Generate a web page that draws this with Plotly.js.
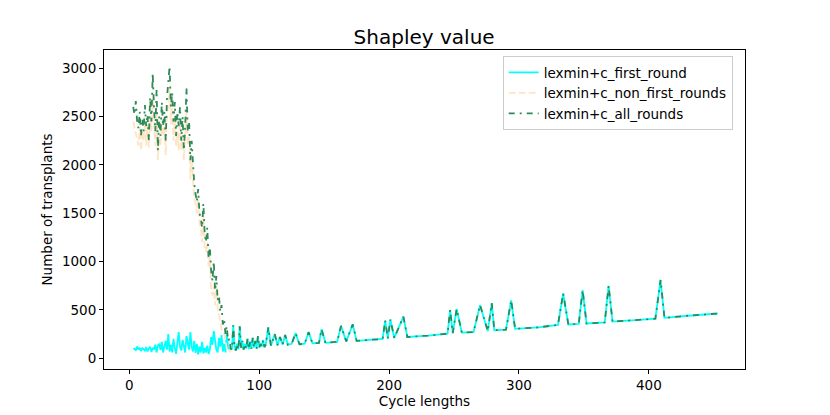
<!DOCTYPE html>
<html>
<head>
<meta charset="utf-8">
<script src="https://cdn.plot.ly/plotly-3.0.1.min.js"></script>
<style>
  body { margin: 0; background: #fff; }
  #chart { width: 830px; height: 415px; }
</style>
</head>
<body>
<div id="chart"></div>
<script>
// cycle lengths, dense part (every length 3..78) then sparse part
let denseX = [
  3, 4, 5, 6, 7, 8, 9, 10, 11, 12, 13, 14, 15, 16, 17, 18, 19, 20, 21, 22,
  23, 24, 25, 26, 27, 28, 29, 30, 31, 32, 33, 34, 35, 36, 37, 38, 39, 40, 41, 42,
  43, 44, 45, 46, 47, 48, 49, 50, 51, 52, 53, 54, 55, 56, 57, 58, 59, 60, 61, 62,
  63, 64, 65, 66, 67, 68, 69, 70, 71, 72, 73, 74, 75, 76, 77, 78,
];
let tailX = [
  79, 80, 81, 82, 83, 84, 85, 86, 87, 88, 89, 90, 91, 92, 93, 94, 95, 96, 97, 98,
  99, 100, 101, 102, 103, 104, 105, 107, 109, 112, 114, 116, 118, 120, 122, 125,
  128, 131, 135, 138, 141, 146, 148, 151, 160, 163, 167, 172, 175, 185, 195, 197,
  199, 201, 204, 211, 214, 230, 245, 247, 249, 252, 256, 265, 270, 276, 279, 281,
  290, 294, 297, 315, 330, 334, 338, 346, 349, 352, 366, 369, 372, 390, 405, 409,
  412, 430, 453,
];

let firstRoundDense = [
  96, 100, 85, 120, 90, 110, 75, 105, 95, 80, 115, 70, 100, 120, 65, 110, 90, 140, 60, 130,
  150, 85, 170, 60, 120, 180, 90, 250, 70, 140, 60, 200, 110, 45, 160, 270, 120, 80, 190, 100,
  60, 230, 140, 90, 270, 120, 70, 180, 55, 150, 40, 120, 60, 170, 50, 110, 60, 130, 45, 90,
  220, 140, 280, 180, 90, 60, 210, 120, 240, 70, 150, 60, 260, 110, 90, 100,
];
let firstRoundTail = [
  90, 340, 120, 80, 150, 90, 330, 110, 180, 90, 150, 100, 200, 95, 170, 100, 210, 110, 180, 100,
  230, 110, 150, 120, 190, 115, 140, 320, 130, 250, 135, 220, 140, 240, 140, 150,
  260, 145, 150, 270, 155, 160, 300, 160, 170, 335, 175, 350, 180, 190, 200, 390,
  205, 400, 210, 430, 220, 235, 255, 500, 260, 510, 265, 270, 550, 280, 570, 290,
  295, 600, 305, 320, 345, 670, 350, 355, 705, 360, 370, 750, 380, 395, 410, 810,
  418, 440, 463,
];

let nonFirstRounds = [
  2450, 2380, 2300, 2250, 2200, 2400, 2150, 2350, 2250, 2450, 2200, 2420, 2180, 2500, 2350, 2700, 2450, 2200, 2550, 2050,
  2300, 2200, 2450, 2300, 2400, 2100, 2550, 2600, 2800, 2420, 2650, 2250, 2500, 2200, 2350, 2150, 2450, 2150, 2300, 2050,
  2300, 2550, 2200, 2300, 1850, 2100, 1850, 1650, 1600, 1500, 1650, 1400, 1350, 1200, 1500, 1150, 1100, 1200, 950, 1050,
  700, 650, 750, 550, 750, 520, 450, 350, 300, 280, 250, 180, 100, 70, 90, 60,
];

let allRoundsDense = [
  2600, 2520, 2660, 2450, 2380, 2550, 2300, 2480, 2350, 2620, 2400, 2520, 2250, 2700, 2450, 2950, 2600, 2350, 2780, 2150,
  2500, 2300, 2650, 2400, 2550, 2250, 2700, 2850, 3020, 2600, 2750, 2450, 2650, 2300, 2550, 2400, 2600, 2250, 2500, 2150,
  2400, 2800, 2350, 2450, 2050, 2250, 1950, 1800, 1700, 1620, 1750, 1500, 1450, 1350, 1600, 1300, 1200, 1350, 1050, 1150,
  900, 800, 1000, 700, 850, 600, 650, 480, 550, 350, 400, 250, 330, 180, 200, 100,
];

let seriesNames = ["lexmin+c_first_round", "lexmin+c_non_first_rounds", "lexmin+c_all_rounds"];

let traces = [
  {
    x: denseX.concat(tailX),
    y: firstRoundDense.concat(firstRoundTail),
    name: seriesNames[0],
    mode: "lines",
    line: { color: "#00ffff", width: 1.8 },
  },
  {
    x: denseX,
    y: nonFirstRounds,
    name: seriesNames[1],
    mode: "lines",
    line: { color: "#ffe4c4", width: 1.8, dash: "7px,3px" },
  },
  {
    x: denseX.concat(tailX),
    y: allRoundsDense.concat(firstRoundTail),
    name: seriesNames[2],
    mode: "lines",
    line: { color: "#2e8b57", width: 1.8, dash: "6px,5px,2px,5px" },
  },
];

let axisStyle = {
  showline: true,
  linecolor: "#000",
  linewidth: 1,
  mirror: true,
  ticks: "outside",
  ticklen: 4,
  tickcolor: "#000",
  showgrid: false,
  zeroline: false,
  tickfont: { size: 13.5, color: "#000" },
};

let layout = {
  width: 830,
  height: 415,
  margin: { l: 104, r: 85, t: 50, b: 46 },
  paper_bgcolor: "#fff",
  plot_bgcolor: "#fff",
  font: { family: "DejaVu Sans, sans-serif", color: "#000" },
  showlegend: true,
  title: {
    text: "Shapley value",
    font: { size: 20, color: "#000" },
    x: 0.511,
    xanchor: "center",
    y: 0.91,
    yanchor: "middle",
  },
  xaxis: Object.assign({}, axisStyle, {
    range: [-19.5, 474],
    tickvals: [0, 100, 200, 300, 400],
    title: { text: "Cycle lengths", font: { size: 13.5 }, standoff: 2 },
  }),
  yaxis: Object.assign({}, axisStyle, {
    range: [-111, 3189],
    tickvals: [0, 500, 1000, 1500, 2000, 2500, 3000],
    title: { text: "Number of transplants", font: { size: 13.5 }, standoff: 6 },
  }),
  legend: {
    x: 0.622,
    y: 0.981,
    xanchor: "left",
    yanchor: "top",
    bgcolor: "rgba(255,255,255,0.8)",
    bordercolor: "#cccccc",
    borderwidth: 1,
    font: { size: 13.5, color: "#000" },
    tracegroupgap: 0,
  },
};

Plotly.newPlot("chart", traces, layout, { displayModeBar: false, staticPlot: true });
</script>
</body>
</html>
